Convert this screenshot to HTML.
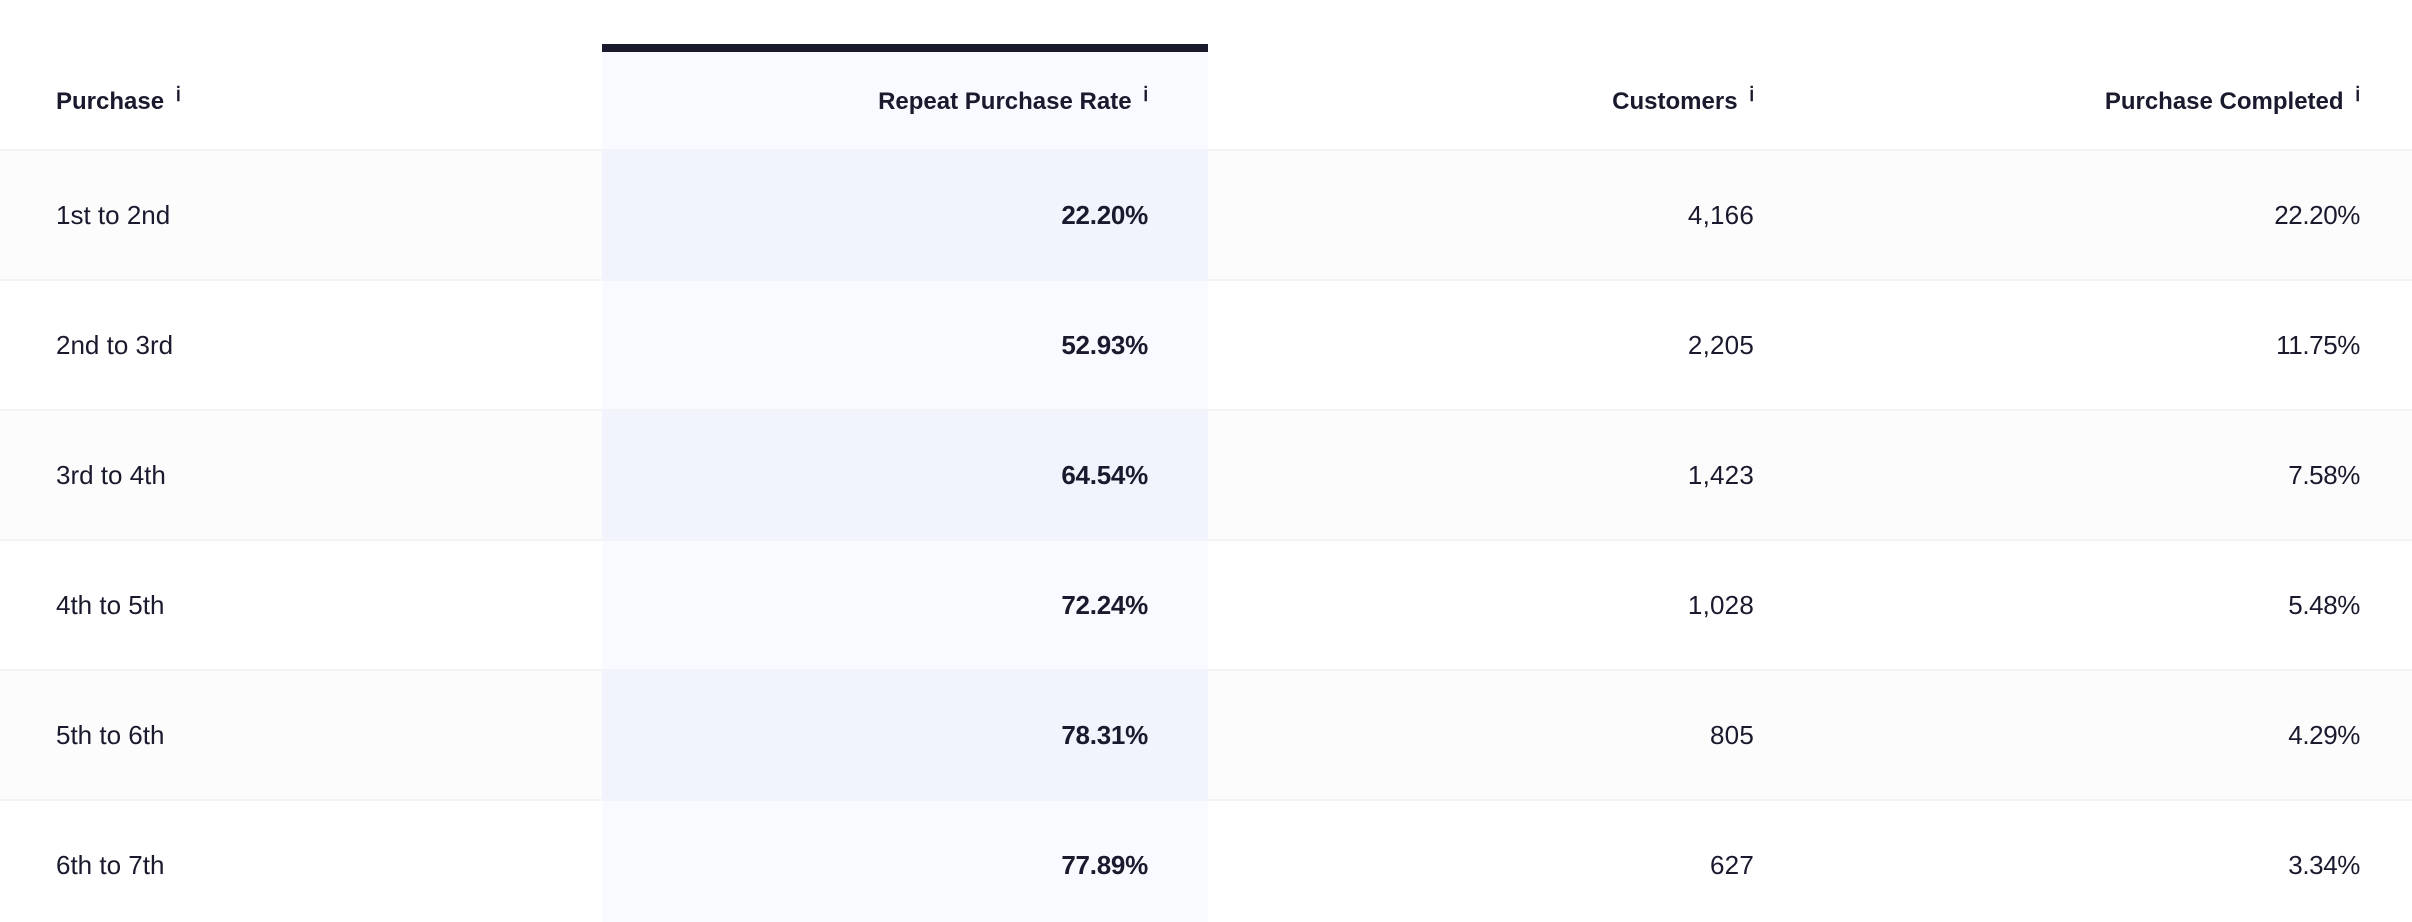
<!DOCTYPE html>
<html lang="en">
<head>
<meta charset="utf-8">
<title>Repeat Purchase Rate Table</title>
<style>
  html, body { margin: 0; padding: 0; background: #ffffff; width: 2412px; height: 922px; overflow: hidden; }
  body { font-family: "Liberation Sans", sans-serif; color: #1a1a2e; }
  .frame { position: relative; width: 2412px; height: 922px; overflow: hidden; }
  table { position: absolute; left: 0; top: 44px; width: 2412px; table-layout: fixed;
          border-collapse: separate; border-spacing: 0; }
  th, td { padding: 0; box-sizing: border-box; text-align: right; white-space: nowrap;
           border-bottom: 2px solid #f3f3f4; }
  col.c1 { width: 602px; } col.c2 { width: 606px; } col.c3 { width: 606px; } col.c4 { width: 598px; }
  .c-a { text-align: left; padding-left: 56px; }
  .c-b { padding-right: 60px; background: #f9faff; border-bottom-color: #f3f4fa; }
  .c-c { padding-right: 60px; }
  .c-d { padding-right: 52px; }
  thead tr { height: 107px; }
  thead th { font-size: 24px; font-weight: 700; vertical-align: middle; padding-top: 2px; }
  thead th.c-b { border-top: 8px solid #1a1a2e; }
  thead th:not(.c-b) { border-top: 8px solid transparent; }
  .info { display: inline-block; font-size: 20px; font-weight: 400; margin-left: 12px; position: relative; top: -8px; line-height: 1; -webkit-text-stroke: 0.6px #1a1a2e; }
  tbody tr { height: 130px; }
  tbody td { font-size: 26px; font-weight: 400; }
  tbody td.c-b { font-weight: 700; letter-spacing: -0.25px; }
  tbody td.c-c { letter-spacing: 0.2px; }
  tbody td.c-d { letter-spacing: -0.4px; }
  tbody tr.alt td { background: #fcfcfc; }
  tbody tr.alt td.c-b { background: #f1f4fd; }
  tbody tr:last-child td { border-bottom-color: transparent; }
</style>
</head>
<body>
<div class="frame">
<table>
  <colgroup><col class="c1"><col class="c2"><col class="c3"><col class="c4"></colgroup>
  <thead>
    <tr>
      <th class="c-a">Purchase<span class="info">i</span></th>
      <th class="c-b">Repeat Purchase Rate<span class="info">i</span></th>
      <th class="c-c">Customers<span class="info">i</span></th>
      <th class="c-d">Purchase Completed<span class="info">i</span></th>
    </tr>
  </thead>
  <tbody>
    <tr class="alt">
      <td class="c-a">1st to 2nd</td>
      <td class="c-b">22.20%</td>
      <td class="c-c">4,166</td>
      <td class="c-d">22.20%</td>
    </tr>
    <tr>
      <td class="c-a">2nd to 3rd</td>
      <td class="c-b">52.93%</td>
      <td class="c-c">2,205</td>
      <td class="c-d">11.75%</td>
    </tr>
    <tr class="alt">
      <td class="c-a">3rd to 4th</td>
      <td class="c-b">64.54%</td>
      <td class="c-c">1,423</td>
      <td class="c-d">7.58%</td>
    </tr>
    <tr>
      <td class="c-a">4th to 5th</td>
      <td class="c-b">72.24%</td>
      <td class="c-c">1,028</td>
      <td class="c-d">5.48%</td>
    </tr>
    <tr class="alt">
      <td class="c-a">5th to 6th</td>
      <td class="c-b">78.31%</td>
      <td class="c-c">805</td>
      <td class="c-d">4.29%</td>
    </tr>
    <tr>
      <td class="c-a">6th to 7th</td>
      <td class="c-b">77.89%</td>
      <td class="c-c">627</td>
      <td class="c-d">3.34%</td>
    </tr>
  </tbody>
</table>
</div>
</body>
</html>
